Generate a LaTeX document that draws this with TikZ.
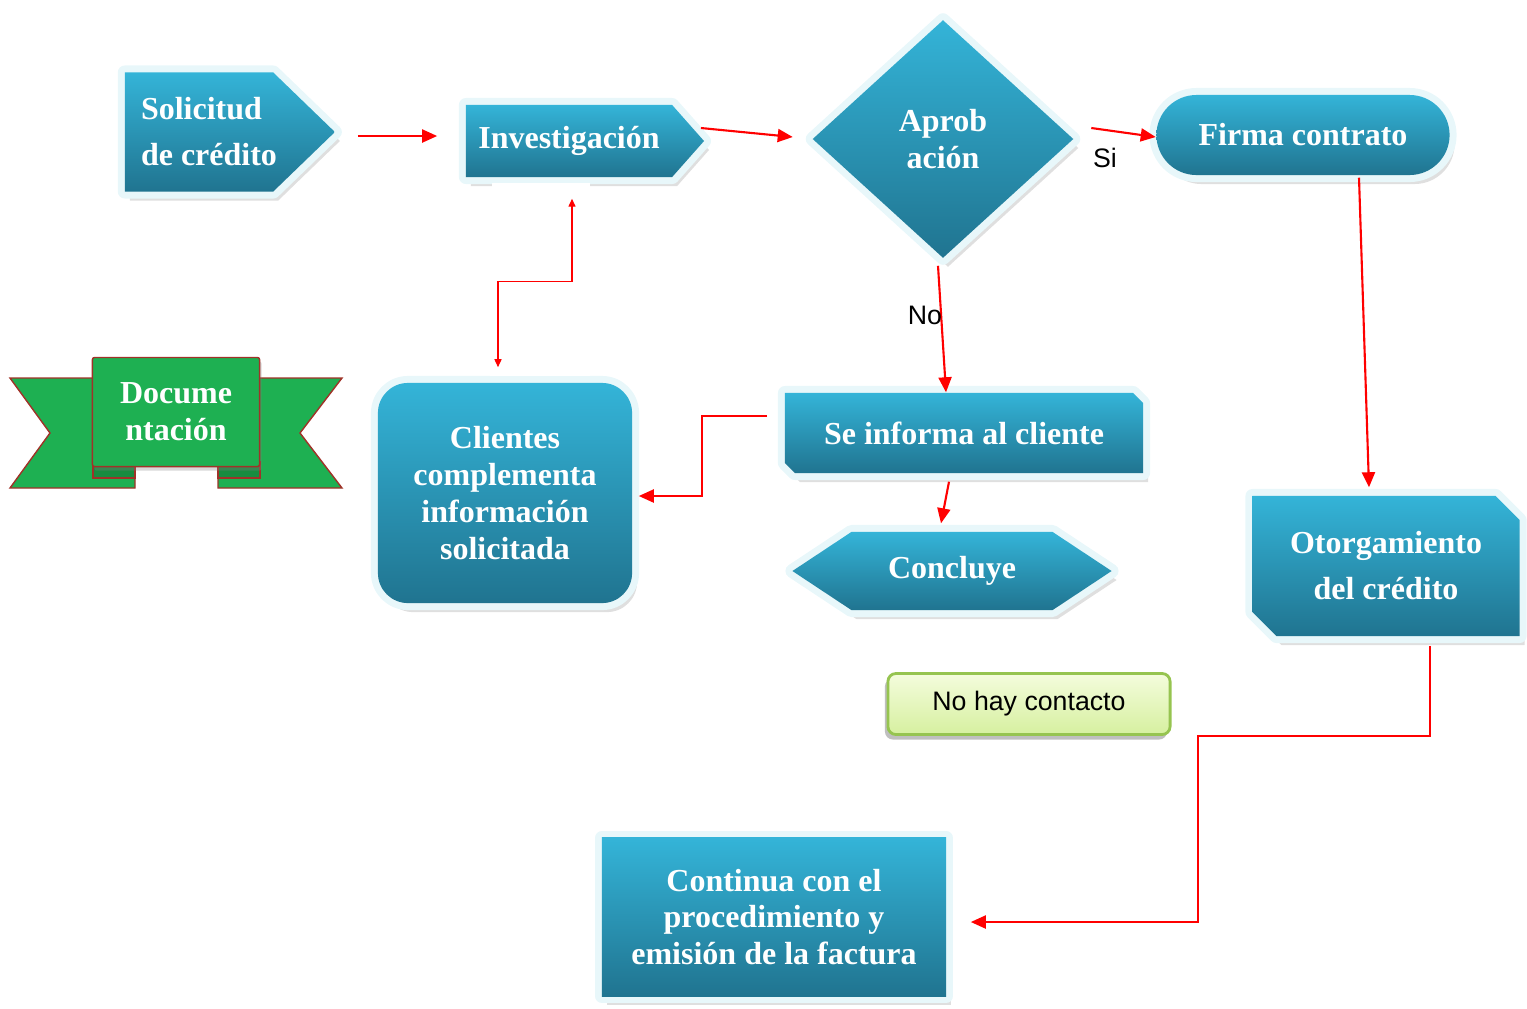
\documentclass[tikz,border=0pt]{standalone}
\usepackage{fontspec}
\setmainfont{Liberation Serif}
\setsansfont{Liberation Sans}
\usetikzlibrary{shapes.geometric,shapes.symbols,shapes.misc,arrows.meta,shadows,positioning}

\definecolor{tealtop}{RGB}{52,180,216}
\definecolor{tealbot}{RGB}{32,116,144}
\definecolor{rimcol}{RGB}{232,247,250}
\definecolor{ribbon}{RGB}{30,176,82}
\definecolor{ribbonedge}{RGB}{160,50,40}
\definecolor{ribbonfold}{RGB}{24,140,64}
\definecolor{notetop}{RGB}{244,252,220}
\definecolor{notebot}{RGB}{214,240,160}
\definecolor{noteedge}{RGB}{150,196,80}

\tikzset{
  boxfont/.style={font=\bfseries\fontsize{9.1}{10.5}\selectfont, text=white, align=center},
  tealbox/.style={boxfont, inner sep=0pt, top color=tealtop, bottom color=tealbot,
    drop shadow={opacity=0.25, shadow xshift=0.05cm, shadow yshift=-0.09cm},
    preaction={draw=rimcol, line width=0.14cm, line join=round}},
  conn/.style={red, line width=0.6pt, -{Triangle[length=0.15cm,width=0.13cm]}},
  thinconn/.style={red, line width=0.4pt, {Triangle[length=0.08cm,width=0.07cm]}-{Triangle[length=0.08cm,width=0.07cm]}},
  lbl/.style={font=\sffamily\fontsize{7.6}{9}\selectfont},
}

\begin{document}
\begin{tikzpicture}[x=0.01cm, y=-0.01cm]
\useasboundingbox (0,0) rectangle (1527,1008);

% ribbon tails
\filldraw[fill=ribbon, draw=ribbonedge, line width=0.4pt] (10,378) -- (135,378) -- (135,488) -- (10,488) -- (50,433) -- cycle;
\filldraw[fill=ribbon, draw=ribbonedge, line width=0.4pt] (342,378) -- (218,378) -- (218,488) -- (342,488) -- (300,433) -- cycle;
\filldraw[fill=ribbonfold, draw=ribbonedge, line width=0.4pt] (93,462) rectangle (135,478);
\filldraw[fill=ribbonfold, draw=ribbonedge, line width=0.4pt] (218,462) rectangle (260,478);

% nodes
\node[tealbox, signal, signal to=east, signal pointer angle=88, minimum width=2.1cm, minimum height=1.19cm, align=left] (solic) at (199,132) {Solicitud\kern-0.2cm\\[2.6pt]de crédito\kern-0.2cm};
\node[tealbox, signal, signal to=east, signal pointer angle=97, minimum width=2.38cm, minimum height=0.72cm] (invest) at (569,141) {Investigación};
\node[tealbox, diamond, minimum width=2.61cm, minimum height=2.38cm] (aprob) at (943,139) {Aprob\\ación};
\node[tealbox, rounded rectangle, minimum width=2.93cm, minimum height=0.8cm] (firma) at (1303,135) {Firma contrato};
\node[draw=ribbonedge, fill=ribbon, boxfont, rounded corners=0.02cm, minimum width=1.67cm, minimum height=1.09cm, drop shadow={opacity=0.3, shadow xshift=0.02cm, shadow yshift=-0.04cm}] (docu) at (176,412) {Docume\\ntación};
\node[tealbox, rectangle, rounded corners=0.3cm, minimum width=2.54cm, minimum height=2.2cm] (clien) at (505,493) {Clientes\\complementa\\información\\solicitada};
\node[tealbox, chamfered rectangle, chamfered rectangle corners={north east, south west}, chamfered rectangle xsep=0.05cm, chamfered rectangle ysep=0.05cm, minimum width=3.58cm, minimum height=0.8cm] (infor) at (964,433) {Se informa al cliente};
\node[tealbox, signal, signal to=east and west, signal pointer angle=67, minimum width=3.19cm, minimum height=0.78cm] (concl) at (952,571) {Concluye};
\node[tealbox, chamfered rectangle, chamfered rectangle corners={north east, south west}, chamfered rectangle xsep=0.12cm, chamfered rectangle ysep=0.12cm, minimum width=2.67cm, minimum height=1.4cm] (otorg) at (1386,566) {Otorgamiento\\[2.6pt]del crédito};
\node[lbl, draw=noteedge, line width=0.8pt, top color=notetop, bottom color=notebot, rounded corners=0.08cm, minimum width=2.82cm, minimum height=0.61cm, drop shadow={fill=gray, opacity=0.5, shadow xshift=-0.03cm, shadow yshift=-0.05cm}] (nohay) at (1029,704) {No hay contacto};
\node[tealbox, rectangle, minimum width=3.44cm, minimum height=1.58cm] (conti) at (774,917) {Continua con el\\procedimiento y\\emisión de la factura};

% white patches
\fill[white] (492,183) rectangle (590,200);
\fill[white] (490,364) rectangle (590,376);

% connectors
\draw[conn] ([shift={(22,4)}]solic.east) -- ([shift={(-28,-5)}]invest.west);
\draw[conn] ([shift={(-4,-13)}]invest.east) -- ([shift={(-19,-2)}]aprob.west);
\draw[conn] ([shift={(17,-11)}]aprob.east) -- ([shift={(0,2)}]firma.west);
\draw[conn] ([shift={(-5,7)}]aprob.south) -- ([shift={(-18,0)}]infor.north);
\draw[conn] ([shift={(56,2)}]firma.south) -- ([shift={(-17,-8)}]otorg.north);
\draw[conn] ([shift={(-17,-17)}]infor.west) -- ++(-65,0) |- ([shift={(6,3)}]clien.east);
\draw[conn] ([shift={(-15,8)}]infor.south) -- ([shift={(-11,-8)}]concl.north);
\draw[conn] ([shift={(44,9)}]otorg.south) -- ++(0,90) -- ++(-232,0) |- ([shift={(24,5)}]conti.east);
\draw[thinconn] ([shift={(3,21)}]invest.south) -- ++(0,83) -| ([shift={(-7,-15)}]clien.north);

% labels
\node[lbl] (si) at (1105,158) {Si};
\node[lbl] (no) at (925,315) {No};
\end{tikzpicture}
\end{document}
